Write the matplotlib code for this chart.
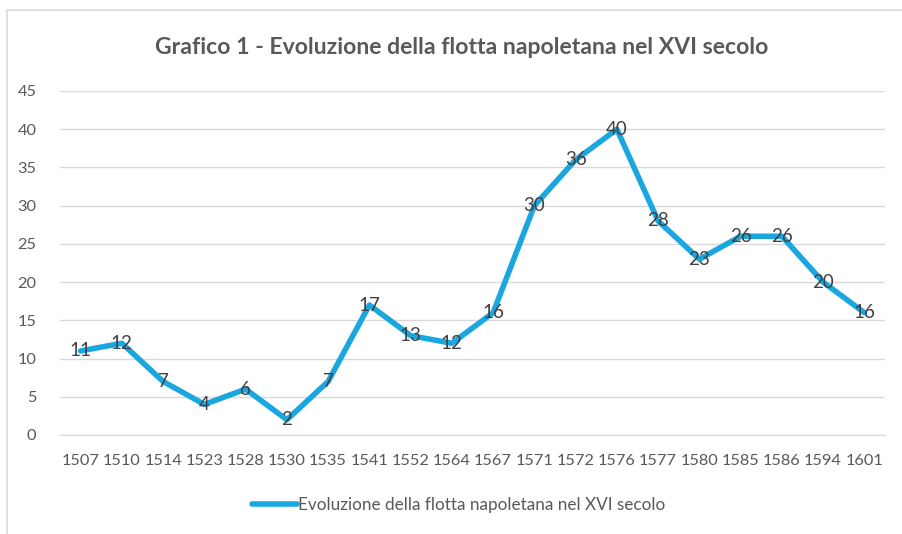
import matplotlib
matplotlib.use("Agg")
import matplotlib.pyplot as plt
from matplotlib.patches import Rectangle

years = ["1507", "1510", "1514", "1523", "1528", "1530", "1535", "1541", "1552", "1564",
         "1567", "1571", "1572", "1576", "1577", "1580", "1585", "1586", "1594", "1601"]
ships = [11, 12, 7, 4, 6, 2, 7, 17, 13, 12, 16, 30, 36, 40, 28, 23, 26, 26, 20, 16]
yticks = [0, 5, 10, 15, 20, 25, 30, 35, 40, 45]
title = "Grafico 1 - Evoluzione della flotta napoletana nel XVI secolo"
series_name = "Evoluzione della flotta napoletana nel XVI secolo"

plt.rcParams['font.family'] = ['Lato', 'DejaVu Sans']
line_color = "#1AA7DF"
text_gray = "#595959"

fig = plt.figure(figsize=(9.03, 5.34), dpi=100)
fig.patches.append(Rectangle((7/903, -0.1), 1.2, 1 - 10/534 + 0.1, transform=fig.transFigure,
                             fill=False, edgecolor="#D9D9D9", linewidth=1.2))
ax = fig.add_axes([60/903, 1 - 435/534, 825/903, 344/534])

x = list(range(len(years)))
ln, = ax.plot(x, ships, color=line_color, linewidth=4.0, solid_joinstyle='round',
              solid_capstyle='round', label=series_name, zorder=3)
for xi, v in zip(x, ships):
    ax.text(xi, v, str(v), ha='center', va='center', fontsize=13.5, color="#404040", zorder=4)

ax.set_xlim(-0.5, len(years) - 0.5)
ax.set_ylim(0, 45)
ax.set_yticks(yticks)
ax.set_xticks(x)
ax.set_xticklabels(years)
ax.grid(axis='y', color="#D9D9D9", linewidth=1)
ax.set_axisbelow(True)
for s in ['top', 'right', 'left']:
    ax.spines[s].set_visible(False)
ax.spines['bottom'].set_color("#D9D9D9")
ax.tick_params(axis='both', length=0, labelsize=11.8, labelcolor=text_gray)
ax.tick_params(axis='y', pad=17)
ax.tick_params(axis='x', pad=14)

fig.text(462/903, 1 - 48/534, title, ha='center', va='center', fontsize=16.6,
         fontweight='bold', color=text_gray)

fig.legend(handles=[ln], loc='center', bbox_to_anchor=(459/903, 1 - 505/534), frameon=False,
           fontsize=12.3, labelcolor=text_gray, handlelength=2.6, handletextpad=0.1)

fig.savefig("out.png", dpi=100)
